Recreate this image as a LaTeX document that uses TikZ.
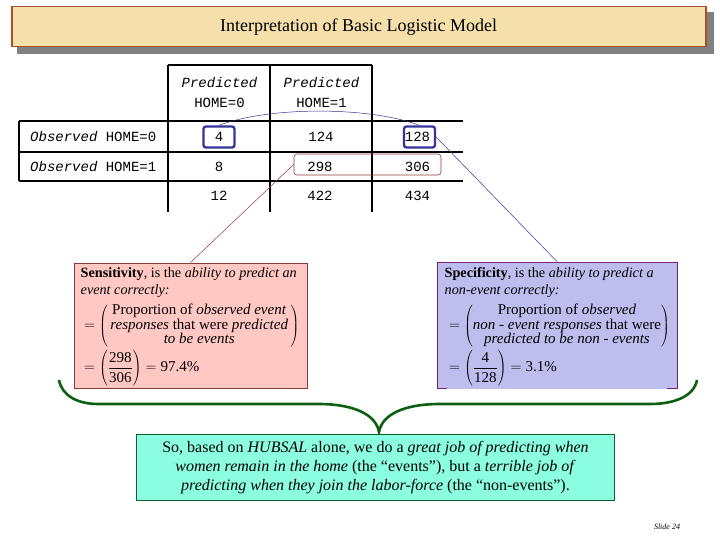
\documentclass[tikz,border=0pt]{standalone}
\usepackage{fontspec}
\setmainfont{Liberation Serif}
\setmonofont{Liberation Mono}
\definecolor{bannerfill}{HTML}{F5E0AC}
\definecolor{bannerline}{HTML}{A8502A}
\definecolor{senscolor}{HTML}{FFC8C3}
\definecolor{sensline}{HTML}{8A3A3A}
\definecolor{speccolor}{HTML}{BDBDEE}
\definecolor{specline}{HTML}{7A1F7A}
\definecolor{sumcolor}{HTML}{8CFFE0}
\definecolor{sumline}{HTML}{10602C}
\definecolor{bracecolor}{HTML}{0F5F12}
\definecolor{markblue}{HTML}{33339A}
\newcommand{\fracpart}[1]{\mbox{\rule[-5pt]{0pt}{19pt}#1}}
\tikzset{
	celltext/.style={font=\ttfamily\fontsize{14}{15}\selectfont, inner sep=0pt},
	rowtext/.style={celltext, anchor=west},
	gridline/.style={line width=1.5pt, color=black},
	markbox/.style={draw=markblue, line width=2.3pt, rounded corners=2.5pt, inner sep=0pt, minimum width=31pt, minimum height=21pt},
	pairbox/.style={draw=sensline, line width=0.6pt, rounded corners=3pt, inner sep=0pt},
	pointer/.style={line width=0.5pt},
	bodytext/.style={font=\fontsize{14.2}{17}\selectfont, align=left, anchor=north west, inner sep=0pt},
	eqtext/.style={font=\fontsize{15}{14.5}\selectfont, anchor=west, inner sep=0pt}
}
\begin{document}
\begin{tikzpicture}[x=1pt, y=-1pt]
			%%%%% START %%%%%
			\useasboundingbox (0, 0) rectangle (720, 540);

			\fill[color=black!50] (17, 12) rectangle (714, 54);
			\node[draw=bannerline, fill=bannerfill, line width=1.3pt, minimum width=694pt, minimum height=40pt, inner sep=0pt] (banner) at (359, 26.5) {};
			\node[font=\fontsize{18}{20}\selectfont, inner sep=0pt] (title) at (358.5, 27) {Interpretation of Basic Logistic Model};

			\draw[gridline] (168, 65) -- (372, 65);
			\draw[gridline] (19, 121) -- (463, 121);
			\draw[gridline] (19, 152) -- (463, 152);
			\draw[gridline] (19, 181) -- (463, 181);
			\draw[gridline] (19, 121) -- (19, 181);
			\draw[gridline] (168, 65) -- (168, 212);
			\draw[gridline] (270, 65) -- (270, 212);
			\draw[gridline] (372, 65) -- (372, 212);

			\node[celltext] (predA) at (219.5, 83) {\itshape Predicted};
			\node[celltext] (homeA) at (219.5, 103) {HOME=0};
			\node[celltext] (predB) at (321.5, 83) {\itshape Predicted};
			\node[celltext] (homeB) at (321.5, 103) {HOME=1};

			\node[rowtext] (obsA) at (30, 137) {{\itshape Observed} HOME=0};
			\node[rowtext] (obsB) at (30, 167) {{\itshape Observed} HOME=1};

			\node[celltext] (valA) at (219, 137) {4};
			\node[celltext] (valB) at (321, 137) {124};
			\node[celltext] (valC) at (417.5, 137) {128};
			\node[celltext] (valD) at (219, 167) {8};
			\node[celltext] (valE) at (320, 167) {298};
			\node[celltext] (valF) at (417.5, 167) {306};
			\node[celltext] (valG) at (219, 196) {12};
			\node[celltext] (valH) at (320, 196) {422};
			\node[celltext] (valI) at (417.5, 196) {434};

			\node[markbox] (markA) at (219, 137) {};
			\node[markbox] (markC) at (419.5, 137) {};
			\node[pairbox, minimum width=147pt, minimum height=21pt] (markPair) at (367.5, 164.5) {};

			\node[draw=sensline, fill=senscolor, line width=0.8pt, inner sep=0pt, minimum width=233pt, minimum height=125pt] (sensBox) at (190.5, 325.5) {};
			\node[draw=specline, fill=speccolor, line width=0.8pt, inner sep=0pt, minimum width=240pt, minimum height=126pt] (specBox) at (557, 325) {};
			\fill[color=speccolor] (447, 386) rectangle (667, 389);

			\draw[pointer, color=markblue] (markA.north) .. controls +(50, -19) and +(-50, -19) .. (markC.north);
			\draw[pointer, color=sensline] (markPair.west) -- (sensBox.north);
			\draw[pointer, color=markblue] (markC.east) -- (specBox.north);

			\node[bodytext] (sensHead) at (80.5, 267) {\textbf{Sensitivity}, is the \textit{ability to predict an}\\\textit{event correctly:}};
			\node[eqtext] (sensEq) at (84, 326) {$=\left(\begin{tabular}{@{\,}c@{\,}}Proportion of \textit{observed event}\\\textit{responses} that were \textit{predicted}\\\textit{to be events}\end{tabular}\right)$};
			\node[eqtext] (sensFrac) at (84, 368) {$=\left(\frac{\fracpart{298}}{\fracpart{306}}\right)=\mbox{97.4\%}$};

			\node[bodytext] (specHead) at (444.5, 267) {\textbf{Specificity}, is the \textit{ability to predict a}\\\textit{non-event correctly:}};
			\node[eqtext] (specEq) at (449, 326) {$=\left(\begin{tabular}{@{}c@{}}Proportion of \textit{observed}\\\textit{non - event responses} that were\\\textit{predicted to be non - events}\end{tabular}\right)$};
			\node[eqtext] (specFrac) at (449, 368) {$=\left(\frac{\fracpart{4}}{\fracpart{128}}\right)=\mbox{3.1\%}$};

			\coordinate (braceL) at (59, 380);
			\coordinate (braceR) at (697, 380);
			\coordinate (braceTip) at (379, 432);
			\draw[line width=2.6pt, color=bracecolor] (braceL) .. controls (62, 396) and (78, 404) .. (98, 404)
				-- (318, 404) .. controls (355, 404) and (376, 415) .. (braceTip)
				.. controls (382, 415) and (403, 404) .. (440, 404)
				-- (650, 404) .. controls (675, 404) and (694, 396) .. (braceR);
			\node[draw=sumline, fill=sumcolor, line width=0.8pt, inner sep=0pt, minimum width=478pt, minimum height=66pt] (sumBox) at (375, 467) {};
			\node[font=\fontsize{16}{19}\selectfont, align=center, inner sep=0pt] (sumText) at (375.5, 467.5) {So, based on \textit{HUBSAL} alone, we do a \textit{great job of predicting when}\\\textit{women remain in the home} (the “events”), but a \textit{terrible job of}\\\textit{predicting when they join the labor-force} (the “non-events”).};

			\node[font=\itshape\fontsize{8}{9}\selectfont, inner sep=0pt] (slideNo) at (667, 527) {Slide 24};
			%%%%% END %%%%%
\end{tikzpicture}
\end{document}
